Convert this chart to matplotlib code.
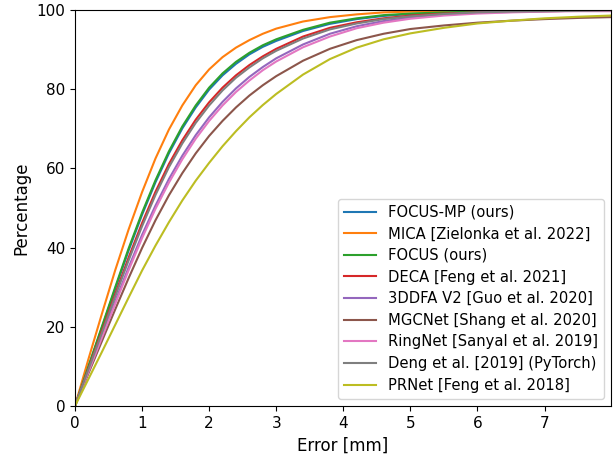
import matplotlib
matplotlib.use("Agg")
import matplotlib.pyplot as plt

# error thresholds [mm] and cumulative percentage of vertices below them
errors = [0, 0.2, 0.4, 0.6, 0.8, 1.0, 1.2, 1.4, 1.6, 1.8, 2.0, 2.2, 2.4, 2.6, 2.8, 3.0,
          3.4, 3.8, 4.2, 4.6, 5.0, 5.5, 6.0, 6.5, 7.0, 7.5, 7.99]

focus_mp = [0, 9.8, 19.7, 29.6, 39.3, 48.3, 56.5, 63.8, 70.1, 75.4, 79.9, 83.5, 86.4, 88.8, 90.7, 92.2,
            94.7, 96.5, 97.7, 98.5, 99.0, 99.3, 99.5, 99.7, 99.8, 99.8, 99.9]
mica     = [0, 11.8, 23.2, 34.3, 44.6, 54.0, 62.5, 69.8, 75.9, 81.0, 85.0, 88.1, 90.5, 92.4, 94.0, 95.3,
            97.1, 98.2, 98.9, 99.4, 99.6, 99.8, 99.9, 100, 100, 100, 100]
focus    = [0, 10.0, 20.0, 30.0, 39.8, 48.8, 57.0, 64.3, 70.6, 75.9, 80.4, 84.0, 86.9, 89.2, 91.1, 92.6,
            95.0, 96.8, 97.9, 98.7, 99.1, 99.4, 99.6, 99.7, 99.8, 99.9, 99.9]
deca     = [0, 9.4, 18.9, 28.3, 37.5, 46.2, 54.1, 61.1, 67.1, 72.3, 76.7, 80.4, 83.5, 86.1, 88.3, 90.2,
            93.3, 95.5, 96.9, 97.9, 98.6, 99.1, 99.4, 99.6, 99.7, 99.8, 99.9]
tddfa    = [0, 8.8, 17.6, 26.4, 35.0, 43.2, 50.6, 57.3, 63.2, 68.4, 72.9, 76.8, 80.2, 83.1, 85.6, 87.8,
            91.3, 94.0, 95.9, 97.2, 98.1, 98.8, 99.3, 99.5, 99.7, 99.8, 99.8]
mgcnet   = [0, 8.2, 16.3, 24.4, 32.3, 39.9, 46.9, 53.2, 58.8, 63.8, 68.2, 72.0, 75.4, 78.4, 81.0, 83.3,
            87.2, 90.2, 92.4, 94.0, 95.2, 96.1, 96.8, 97.3, 97.7, 98.0, 98.2]
ringnet  = [0, 8.6, 17.2, 25.8, 34.3, 42.4, 49.8, 56.4, 62.3, 67.5, 72.0, 75.9, 79.3, 82.2, 84.8, 87.0,
            90.6, 93.3, 95.4, 96.8, 97.8, 98.6, 99.1, 99.4, 99.6, 99.7, 99.7]
deng     = [0, 9.2, 18.4, 27.7, 36.8, 45.4, 53.3, 60.3, 66.3, 71.5, 75.9, 79.7, 82.9, 85.5, 87.8, 89.7,
            92.8, 95.1, 96.6, 97.7, 98.4, 99.0, 99.4, 99.6, 99.7, 99.8, 99.9]
prnet    = [0, 6.8, 13.6, 20.5, 27.4, 34.2, 40.5, 46.4, 51.9, 56.9, 61.4, 65.6, 69.4, 72.9, 76.0, 78.8,
            83.7, 87.6, 90.5, 92.6, 94.1, 95.5, 96.6, 97.3, 97.9, 98.3, 98.6]

methods = [
    ("FOCUS-MP (ours)", focus_mp),
    ("MICA [Zielonka et al. 2022]", mica),
    ("FOCUS (ours)", focus),
    ("DECA [Feng et al. 2021]", deca),
    ("3DDFA V2 [Guo et al. 2020]", tddfa),
    ("MGCNet [Shang et al. 2020]", mgcnet),
    ("RingNet [Sanyal et al. 2019]", ringnet),
    ("Deng et al. [2019] (PyTorch)", deng),
    ("PRNet [Feng et al. 2018]", prnet),
]

fig = plt.figure(figsize=(6.13, 4.57), dpi=100)
ax = fig.add_axes([0.1223, 0.1116, 0.8744, 0.8665])

for name, vals in methods:
    ax.plot(errors, vals, lw=1.5, label=name)

ax.set_xlim(0, 7.99)
ax.set_ylim(0, 100)
ax.set_xticks(range(8))
ax.set_xlabel("Error [mm]", fontsize=12)
ax.set_ylabel("Percentage", fontsize=12)
ax.tick_params(labelsize=11)
ax.legend(loc="lower right", fontsize=10.6, handlelength=2.15, labelspacing=0.45,
          borderaxespad=0.5)

fig.savefig("out.png", dpi=100)
